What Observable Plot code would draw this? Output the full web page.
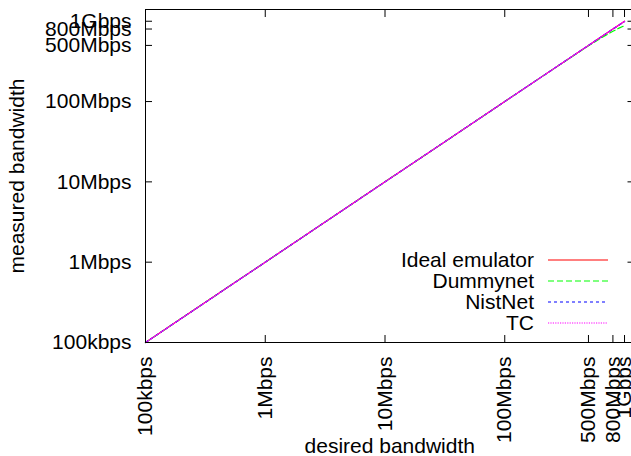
<!DOCTYPE html>
<html><head><meta charset="utf-8">
<script src="https://cdn.jsdelivr.net/npm/d3@7"></script>
<script src="https://cdn.jsdelivr.net/npm/@observablehq/plot@0.6"></script>
<style>
html,body{margin:0;padding:0;background:#fff;overflow:hidden;}
#wrap{position:relative;width:631px;height:456px;overflow:hidden;}
#legend{position:absolute;left:0;top:0;}
</style></head><body><div id="wrap"></div>
<script>
// desired bandwidth (bps)
const desired   = [1e5, 2e5, 5e5, 1e6, 2e6, 5e6, 1e7, 2e7, 5e7, 1e8, 2e8, 5e8, 6e8, 7e8, 8e8, 9e8, 1e9];
// measured bandwidth (bps) per emulator
const idealEmu  = [1e5, 2e5, 5e5, 1e6, 2e6, 5e6, 1e7, 2e7, 5e7, 1e8, 2e8, 5e8, 6e8, 7e8, 8e8, 9e8, 1e9];
const dummynet  = [1e5, 2e5, 5e5, 1e6, 2e6, 5e6, 1e7, 2e7, 5e7, 1e8, 2e8, 4.95e8, 5.85e8, 6.7e8, 7.5e8, 8.2e8, 8.8e8];
const nistnet   = [1e5, 2e5, 5e5, 1e6, 2e6, 5e6, 1e7, 2e7, 5e7, 1e8, 2e8, 5e8, 6e8, 7e8, 8e8, 8.95e8, 9.9e8];
const tc        = [1e5, 2e5, 5e5, 1e6, 2e6, 5e6, 1e7, 2e7, 5e7, 1e8, 2e8, 5e8, 6e8, 7e8, 8e8, 9e8, 1e9];

const seriesNames  = ["Ideal emulator", "Dummynet", "NistNet", "TC"];
const seriesValues = [idealEmu, dummynet, nistnet, tc];
const seriesColors = ["#ff0000", "#00ff00", "#0000ff", "#ff00ff"];
const seriesDashes = [null, "6,3", "3,3", "1.2,1.2"];

const xTicks  = [1e5, 1e6, 1e7, 1e8, 5e8, 8e8, 1e9];
const xLabels = ["100kbps", "1Mbps", "10Mbps", "100Mbps", "500Mbps", "800Mbps", "1Gbps"];
const yTicks  = [1e5, 1e6, 1e7, 1e8, 5e8, 8e8, 1e9];
const yLabels = ["100kbps", "1Mbps", "10Mbps", "100Mbps", "500Mbps", "800Mbps", "1Gbps"];

const xLab = new Map(xTicks.map((v, i) => [v, xLabels[i]]));
const yLab = new Map(yTicks.map((v, i) => [v, yLabels[i]]));

const FONT = "'Liberation Sans', Arial, Helvetica, sans-serif";

const lineMarks = seriesValues.map((vals, s) =>
  Plot.line(desired.map((d, i) => ({desired: d, measured: vals[i]})), {
    x: "desired", y: "measured",
    stroke: seriesColors[s], strokeWidth: 1.2,
    strokeDasharray: seriesDashes[s]
  })
);

const chart = Plot.plot({
  width: 631, height: 456,
  marginLeft: 145, marginRight: -2.5, marginTop: 9, marginBottom: 114,
  style: {fontFamily: FONT, fontSize: "21px", color: "#000", background: "#fff"},
  x: {type: "log", domain: [1e5, 1.2e9]},
  y: {type: "log", domain: [1e5, 1.4e9]},
  marks: [
    ...lineMarks,
    Plot.frame({stroke: "#000", strokeWidth: 1}),
    Plot.axisX(xTicks, {anchor: "bottom", tickSize: -7, tickFormat: () => "", label: null}),
    Plot.axisX(xTicks, {anchor: "top", tickSize: -7, tickFormat: () => "", label: null}),
    Plot.axisY(yTicks, {anchor: "left", tickSize: -7, tickFormat: () => "", label: null}),
    Plot.axisY(yTicks, {anchor: "right", tickSize: -7, tickFormat: () => "", label: null}),
    Plot.axisX(xTicks, {anchor: "bottom", tickSize: 0, tickFormat: () => "",
      label: "desired bandwidth", labelAnchor: "center",
      labelOffset: 110, labelArrow: "none", fill: "#000"}),
    Plot.axisY(yTicks, {anchor: "left", tickSize: 0, tickFormat: () => "",
      label: "measured bandwidth", labelAnchor: "center",
      labelOffset: 136, labelArrow: "none", fill: "#000"}),
    Plot.text(xTicks, {x: d => d, text: d => xLab.get(d), frameAnchor: "bottom", dy: 14,
      rotate: -90, textAnchor: "end", lineAnchor: "middle", fill: "#000", fontSize: 21}),
    Plot.text(yTicks, {y: d => d, text: d => yLab.get(d), frameAnchor: "left", dx: -14,
      textAnchor: "end", lineAnchor: "middle", fill: "#000", fontSize: 21})
  ]
});
const wrap = document.getElementById("wrap");
wrap.appendChild(chart);

// legend overlay
const leg = d3.select(wrap).append("svg").attr("id", "legend")
  .attr("width", 631).attr("height", 456)
  .style("font-family", FONT).style("font-size", "21px");
seriesNames.forEach((name, i) => {
  const base = 267 + i * 21;
  leg.append("text").attr("x", 534).attr("y", base).attr("text-anchor", "end").attr("fill", "#000").text(name);
  leg.append("line").attr("x1", 548).attr("x2", 608).attr("y1", base - 7).attr("y2", base - 7)
    .attr("stroke", seriesColors[i]).attr("stroke-width", 1.2)
    .attr("stroke-dasharray", seriesDashes[i]);
});
</script></body></html>
